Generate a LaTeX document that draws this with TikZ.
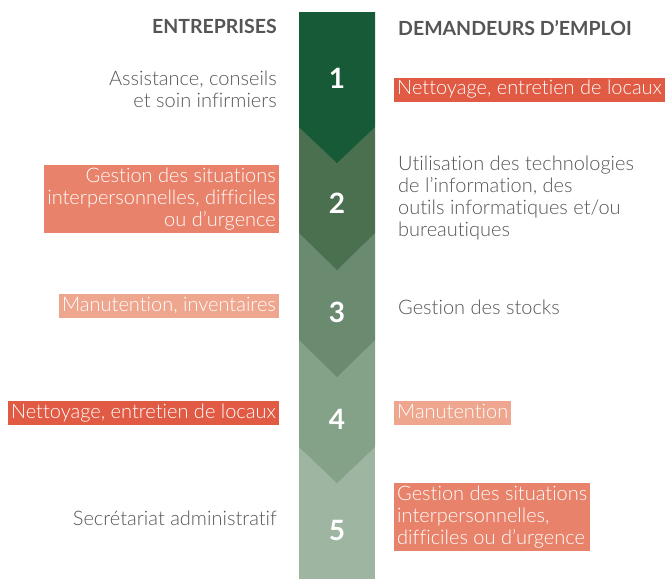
\documentclass[tikz,border=0pt]{standalone}
\usepackage{fontspec}
\setmainfont{Lato}[UprightFont=* Light, BoldFont=* Bold, RawFeature={-liga;-dlig}]
\usepackage{xcolor}
\definecolor{stepA}{HTML}{165A37}
\definecolor{stepB}{HTML}{4A7050}
\definecolor{stepC}{HTML}{6A8B70}
\definecolor{stepD}{HTML}{84A288}
\definecolor{stepE}{HTML}{9EB6A1}
\definecolor{boxRed}{HTML}{E05A44}
\definecolor{boxMid}{HTML}{E8826A}
\definecolor{boxLight}{HTML}{EFA68E}
\definecolor{txtGrey}{HTML}{555555}

\begin{document}
\begin{tikzpicture}[
  x=1pt,y=-1pt,
  every node/.style={font=\fontsize{20}{22}\selectfont},
  header/.style={font=\fontsize{19.5}{22}\selectfont\bfseries,text=txtGrey,inner sep=0pt},
  number/.style={font=\fontsize{28}{30}\selectfont\bfseries,text=white,inner sep=0pt},
  plain/.style={text=txtGrey,inner sep=0pt},
  tag/.style={text=white,inner xsep=3pt,inner ysep=3pt},
  tagOne/.style={tag,text height=14pt,text depth=4pt},
  tagRed/.style={tagOne,fill=boxRed},
  tagMid/.style={tag,fill=boxMid},
  tagLight/.style={tagOne,fill=boxLight},
  leftText/.style={anchor=east,align=right},
  rightText/.style={anchor=west,align=left}]

  \useasboundingbox (0,0) rectangle (666,579);

  % column, drawn from the bottom up so every chevron covers the next one
  \fill[stepE] (299,447) -- (375,447) -- (375,579) -- (299,579) -- cycle;
  \fill[stepD] (299,340) -- (375,340) -- (375,447) -- (337,483) -- (299,447) -- cycle;
  \fill[stepC] (299,233) -- (375,233) -- (375,340) -- (337,377) -- (299,340) -- cycle;
  \fill[stepB] (299,127) -- (375,127) -- (375,233) -- (337,270) -- (299,233) -- cycle;
  \fill[stepA] (299,12) -- (375,12) -- (375,127) -- (337,163) -- (299,127) -- cycle;

  % numbers
  \node[number] (n1) at (337,78) {1};
  \node[number] (n2) at (337,203) {2};
  \node[number] (n3) at (337,312) {3};
  \node[number] (n4) at (337,419) {4};
  \node[number] (n5) at (337,530) {5};

  % headers
  \node[header,anchor=east] (hEntr) at (277,26) {ENTREPRISES};
  \node[header,anchor=west] (hDem) at (398,28) {DEMANDEURS D’EMPLOI};

  % entreprises
  \node[plain,leftText] (eAssist) at (277,89) {Assistance, conseils\\et soin infirmiers};
  \node[tagMid,leftText] (eGestion) at (279,199) {Gestion des situations\\interpersonnelles, difficiles\\ou d’urgence};
  \node[tagLight,leftText] (eManut) at (279,306) {Manutention, inventaires};
  \node[tagRed,leftText] (eNettoy) at (279,413) {Nettoyage, entretien de locaux};
  \node[plain,leftText] (eSecret) at (277,518) {Secrétariat administratif};

  % demandeurs d'emploi
  \node[tagRed,rightText] (dNettoy) at (394,89.5) {Nettoyage, entretien de locaux};
  \node[plain,rightText] (dUtil) at (398,198) {Utilisation des technologies\\de l’information, des\\outils informatiques et/ou\\bureautiques};
  \node[plain,rightText] (dStocks) at (398,307) {Gestion des stocks};
  \node[tagLight,rightText] (dManut) at (394,413) {Manutention};
  \node[tagMid,rightText] (dGestion) at (394,517) {Gestion des situations\\interpersonnelles,\\difficiles ou d’urgence};

\end{tikzpicture}
\end{document}
